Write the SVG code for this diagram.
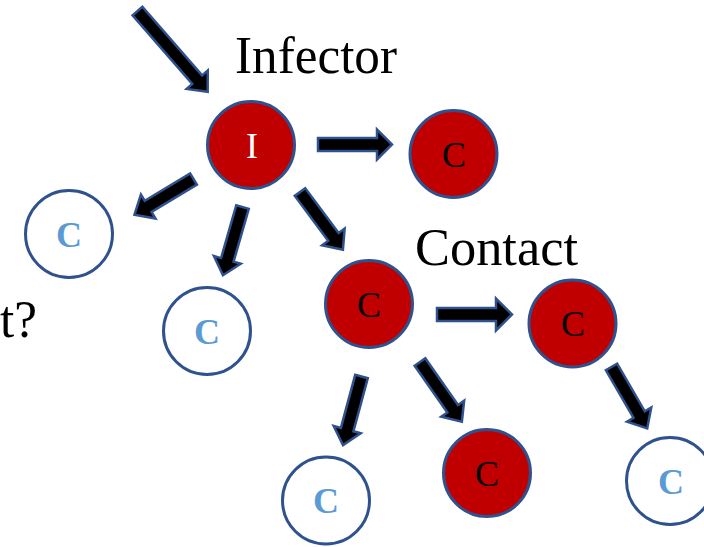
<svg xmlns="http://www.w3.org/2000/svg" width="704" height="547" viewBox="0 0 704 547">
  <style>
    .node { stroke: #2F528F; stroke-width: 3; }
    .red { fill: #C00000; }
    .blank { fill: #FFFFFF; }
    .arrow { fill: #000000; stroke: #2F528F; stroke-width: 2.5; stroke-linejoin: miter; }
    .lbl { font-family: "Liberation Serif", "DejaVu Serif", serif; font-size: 52px; fill: #000000; }
    .in { font-family: "Liberation Serif", "DejaVu Serif", serif; font-size: 36px; text-anchor: middle; }
    .in-red { fill: #000000; }
    .in-inf { fill: #FFFFFF; }
    .in-blank { fill: #5B9BD5; font-weight: bold; }
  </style>

  <!-- block arrows: each drawn along +x from its tail, then placed -->
  <g id="connectors">
    <path class="arrow" transform="translate(137.5,11) rotate(49)" d="M0,-6.5 H91 V-14 L107,0 L91,14 V6.5 H0 Z"/>
    <path class="arrow" transform="translate(193.5,179) rotate(148.8)" d="M0,-6.5 H53 V-14 L69,0 L53,14 V6.5 H0 Z"/>
    <path class="arrow" transform="translate(242.5,207) rotate(106)" d="M0,-6.5 H55 V-14 L71,0 L55,14 V6.5 H0 Z"/>
    <path class="arrow" transform="translate(300,192) rotate(53.4)" d="M0,-6.5 H56 V-14 L72,0 L56,14 V6.5 H0 Z"/>
    <path class="arrow" transform="translate(318,144.5)" d="M0,-6.5 H59 V-15 L74,0 L59,15 V6.5 H0 Z"/>
    <path class="arrow" transform="translate(437,314.5)" d="M0,-6.5 H59 V-16 L75,0 L59,16 V6.5 H0 Z"/>
    <path class="arrow" transform="translate(361.5,376.5) rotate(105.1)" d="M0,-6.5 H55 V-14 L71,0 L55,14 V6.5 H0 Z"/>
    <path class="arrow" transform="translate(420,362) rotate(55)" d="M0,-6.5 H57 V-14 L73,0 L57,14 V6.5 H0 Z"/>
    <path class="arrow" transform="translate(611.5,367) rotate(59.8)" d="M0,-6.5 H55 V-14 L71,0 L55,14 V6.5 H0 Z"/>
  </g>

  <g id="infector">
    <circle class="node red" cx="251" cy="145" r="43.5"/>
    <text class="in in-inf" x="252" y="158">I</text>
  </g>
  <g id="contact-top-right">
    <circle class="node red" cx="453.5" cy="154" r="43.5"/>
    <text class="in in-red" x="454" y="167">C</text>
  </g>
  <g id="contact-left">
    <circle class="node blank" cx="69" cy="234" r="43.5"/>
    <text class="in in-blank" x="69" y="247">C</text>
  </g>
  <g id="contact-mid-left">
    <circle class="node blank" cx="207" cy="331" r="43.5"/>
    <text class="in in-blank" x="207" y="344">C</text>
  </g>
  <g id="contact-main">
    <circle class="node red" cx="369" cy="304" r="43.5"/>
    <text class="in in-red" x="369" y="317">C</text>
  </g>
  <g id="contact-right">
    <circle class="node red" cx="572.5" cy="323.5" r="43.5"/>
    <text class="in in-red" x="573" y="336">C</text>
  </g>
  <g id="contact-bottom-left">
    <circle class="node blank" cx="326" cy="500.5" r="43.5"/>
    <text class="in in-blank" x="326" y="513">C</text>
  </g>
  <g id="contact-bottom-mid">
    <circle class="node red" cx="487" cy="473" r="43.5"/>
    <text class="in in-red" x="487" y="486">C</text>
  </g>
  <g id="contact-bottom-right">
    <circle class="node blank" cx="670" cy="481" r="43.5"/>
    <text class="in in-blank" x="671" y="494">C</text>
  </g>

  <g id="labels">
    <text class="lbl" x="235" y="73" textLength="162" lengthAdjust="spacingAndGlyphs">Infector</text>
    <text class="lbl" x="415" y="265" textLength="163" lengthAdjust="spacingAndGlyphs">Contact</text>
    <text class="lbl" x="0" y="337" textLength="37" lengthAdjust="spacingAndGlyphs">t?</text>
  </g>
</svg>
